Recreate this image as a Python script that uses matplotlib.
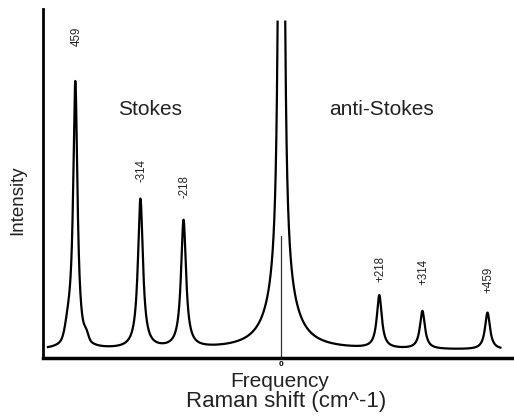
import numpy as np
import matplotlib.pyplot as plt

plt.rcParams['font.family'] = ['Liberation Sans', 'DejaVu Sans']

# Raman lines (cm^-1), amplitudes above baseline and widths (HWHM, cm^-1)
shifts = [-459, -314, -218, 218, 314, 459]
amps = [268, 150, 128, 53, 38, 37]
widths = [5.8, 6.7, 6.7, 6.7, 6.7, 6.7]
labels = ['459', '-314', '-218', '+218', '+314', '+459']

# small shoulders on the base of the strong Stokes line: centre, amplitude, sigma
shoulder_pos = [-474.6, -434.5]
shoulder_amp = [15, 6]
shoulder_sig = [6.7, 4.5]

# Rayleigh line: a narrow and a broad lorentzian part
rayleigh_amp = [4234, 60]
rayleigh_width = [2.23, 33.4]

baseline = 8
clip_level = 338   # curve of the Rayleigh line is cut here
laser_mark = 122   # height of the marker at zero shift


def lorentz(x, x0, a, g):
    return a / (1 + ((x - x0) / g) ** 2)


x = np.arange(-520, 488, 0.25)
y = np.full_like(x, baseline, dtype=float)
for x0, a, g in zip(shifts, amps, widths):
    y += lorentz(x, x0, a, g)
for x0, a, s in zip(shoulder_pos, shoulder_amp, shoulder_sig):
    y += a * np.exp(-0.5 * ((x - x0) / s) ** 2)
for a, g in zip(rayleigh_amp, rayleigh_width):
    y += lorentz(x, 0, a, g)
y[y > clip_level] = np.nan

fig = plt.figure(figsize=(5.14, 4.16), dpi=100, facecolor='white')
ax = fig.add_axes([43 / 514, 58 / 416, 1 - 43 / 514, 349 / 416])

ax.plot(x, y, color='black', lw=1.6)
ax.plot([0, 0], [0, laser_mark], color='#333333', lw=0.9)

ax.set_xlim(-531, 518)
ax.set_ylim(0, 350)

# label every line with its shift, rotated like the peaks
label_pad = [37, 18, 24, 15, 27, 20]
for x0, a, lab, pad in zip(shifts, amps, labels, label_pad):
    ax.annotate(lab, xy=(x0, baseline + a), xytext=(1, pad),
                textcoords='offset pixels', rotation=90,
                ha='center', va='bottom', fontsize=8.3, color='#222222')

ax.text(-292, 249, 'Stokes', fontsize=15,
        ha='center', va='center', color='#222222')
ax.text(224, 249, 'anti-Stokes', fontsize=15,
        ha='center', va='center', color='#222222')

for side in ['top', 'right']:
    ax.spines[side].set_visible(False)
ax.spines['left'].set_linewidth(2)
ax.spines['bottom'].set_linewidth(2.5)

ax.set_yticks([])
ax.set_xticks([0])
ax.set_xticklabels(['0'], fontsize=6, fontweight='bold')
ax.tick_params(axis='x', length=0, pad=2.5)

ax.set_ylabel('Intensity', fontsize=13.5, color='#222222')
ax.yaxis.set_label_coords(-0.036, 0.453)
fig.text(280 / 514, 1 - 387 / 416, 'Frequency', fontsize=15,
         ha='center', va='baseline', color='#222222')
fig.text(286 / 514, 1 - 407 / 416, 'Raman shift (cm^-1)', fontsize=16,
         ha='center', va='baseline', color='#222222')

fig.savefig('out.png', dpi=100, facecolor='white')
